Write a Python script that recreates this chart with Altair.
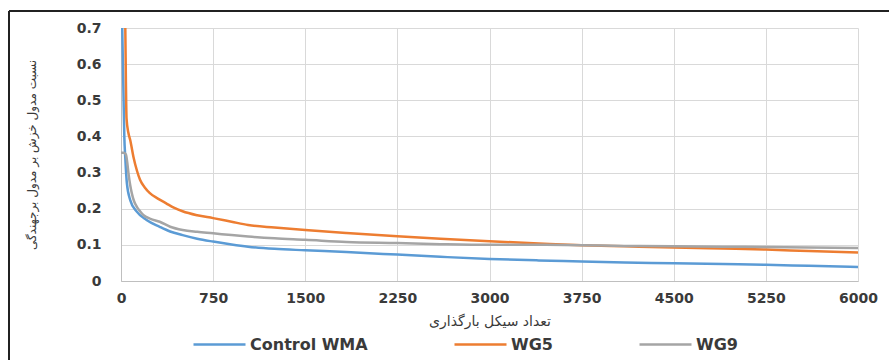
import altair as alt
import pandas as pd

# ---- data ----
series_names = ["Control WMA", "WG5", "WG9"]
series_colors = ["#5B9BD5", "#ED7D31", "#A5A5A5"]

ctrl_cycles = [0, 10, 20, 27, 35, 48, 75, 128, 208, 315, 400, 502, 620, 750, 900, 1035,
               1250, 1500, 1835, 2250, 2600, 3000, 3400, 3750, 4100, 4500, 4900, 5250, 5600, 6000]
ctrl_values = [0.80, 0.70, 0.52, 0.40, 0.34, 0.27, 0.224, 0.192, 0.169, 0.150, 0.137, 0.127,
               0.117, 0.109, 0.101, 0.095, 0.089, 0.085, 0.080, 0.073, 0.067, 0.061, 0.057,
               0.054, 0.051, 0.049, 0.047, 0.045, 0.042, 0.039]

wg5_cycles = [25, 35, 40, 45, 60, 75, 101, 130, 155, 195, 235, 300, 368, 430, 501, 620, 750,
              900, 1035, 1250, 1500, 1835, 2250, 2600, 3000, 3400, 3750, 4100, 4500, 4900,
              5250, 5600, 6000]
wg5_values = [0.80, 0.70, 0.55, 0.45, 0.41, 0.39, 0.344, 0.305, 0.280, 0.258, 0.243, 0.228,
              0.215, 0.203, 0.193, 0.182, 0.174, 0.164, 0.155, 0.148, 0.141, 0.133, 0.124,
              0.117, 0.110, 0.104, 0.099, 0.096, 0.093, 0.090, 0.087, 0.083, 0.079]

wg9_cycles = [0, 20, 40, 50, 61, 75, 88, 105, 128, 155, 181, 240, 315, 400, 502, 620, 750, 900,
              1035, 1250, 1500, 1835, 2250, 2600, 3000, 3400, 3750, 4100, 4500, 4900, 5250,
              5600, 6000]
wg9_values = [0.355, 0.355, 0.350, 0.330, 0.298, 0.265, 0.243, 0.222, 0.206, 0.193, 0.183,
              0.172, 0.164, 0.150, 0.141, 0.136, 0.132, 0.127, 0.123, 0.118, 0.114, 0.108,
              0.105, 0.102, 0.100, 0.100, 0.099, 0.097, 0.096, 0.095, 0.094, 0.093, 0.091]

x_ticks = [0, 750, 1500, 2250, 3000, 3750, 4500, 5250, 6000]
y_ticks = [0, 0.1, 0.2, 0.3, 0.4, 0.5, 0.6, 0.7]

x_title = "تعداد سیکل بارگذاری"
y_title = "نسبت مدول خزش بر مدول برجهندگی"

rows = []
for name, cyc, val in [(series_names[0], ctrl_cycles, ctrl_values),
                       (series_names[1], wg5_cycles, wg5_values),
                       (series_names[2], wg9_cycles, wg9_values)]:
    for i, (c, v) in enumerate(zip(cyc, val)):
        rows.append({"series": name, "cycle": c, "value": v, "order": i})
df = pd.DataFrame(rows)

FONT = "DejaVu Sans"
TXT = "#3a3a3a"

lines = alt.Chart(df).mark_line(strokeWidth=2.5, clip=True, interpolate="monotone").encode(
    x=alt.X("cycle:Q",
            scale=alt.Scale(domain=[0, 6000], nice=False),
            axis=alt.Axis(values=x_ticks, format="d", title=x_title, grid=True,
                          gridColor="#D9D9D9", ticks=False, domainColor="#BFBFBF",
                          labelFont=FONT, labelFontWeight="bold", labelFontSize=14,
                          labelColor=TXT, labelPadding=10, labelFlush=False, titleFont=FONT,
                          titleFontWeight="normal", titleFontSize=14, titleColor=TXT,
                          titlePadding=9)),
    y=alt.Y("value:Q",
            scale=alt.Scale(domain=[0, 0.7], nice=False),
            axis=alt.Axis(values=y_ticks, format=".1~f", title=y_title, grid=True,
                          gridColor="#D9D9D9", ticks=False, domainColor="#BFBFBF",
                          labelFont=FONT, labelFontWeight="bold", labelFontSize=14,
                          labelColor=TXT, labelPadding=20, titleFont=FONT,
                          titleFontWeight="normal", titleFontSize=12, titleColor=TXT,
                          titleX=-90, titleBaseline="middle")),
    color=alt.Color("series:N",
                    scale=alt.Scale(domain=series_names, range=series_colors),
                    legend=alt.Legend(title=None, orient="none", direction="horizontal",
                                      legendX=71, legendY=289, symbolType="stroke",
                                      symbolSize=2704, symbolStrokeWidth=2.5,
                                      labelFont=FONT, labelFontWeight="bold",
                                      labelFontSize=16, labelColor=TXT, labelOffset=3,
                                      columnPadding=81, gridAlign="none")),
    order="order:Q",
)

frame_left = alt.Chart(df).mark_rule(color="#222222", strokeWidth=1.5).encode(
    x=alt.value(-112), y=alt.value(-17), y2=alt.value(400))
frame_top = alt.Chart(df).mark_rule(color="#222222", strokeWidth=1.5).encode(
    x=alt.value(-112), x2=alt.value(900), y=alt.value(-17))

chart = alt.layer(lines, frame_left, frame_top).properties(
    width=737, height=253,
    autosize=alt.AutoSizeParams(type="none"),
    padding={"left": 121, "top": 28, "right": 31, "bottom": 79},
    background="white",
).configure_view(strokeWidth=0)

chart.save("out.html", embed_options={"renderer": "svg", "actions": False})
